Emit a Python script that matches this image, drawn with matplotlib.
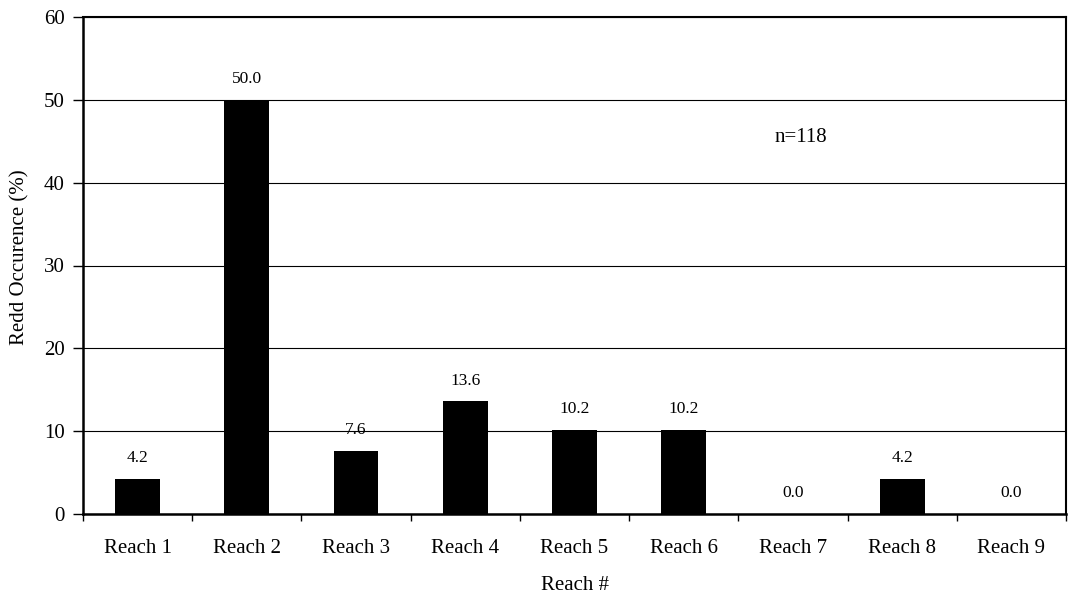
import matplotlib
matplotlib.use('Agg')
import matplotlib.pyplot as plt
import numpy as np

# data
reaches = ['Reach 1', 'Reach 2', 'Reach 3', 'Reach 4', 'Reach 5',
           'Reach 6', 'Reach 7', 'Reach 8', 'Reach 9']
occurrence = [4.2, 50.0, 7.6, 13.6, 10.2, 10.2, 0.0, 4.2, 0.0]
sample_note = 'n=118'

plt.rcParams['font.family'] = ['Liberation Serif', 'DejaVu Serif']

fig = plt.figure(figsize=(10.7, 5.98), dpi=100)
ax = fig.add_axes([83 / 1070, 1 - 514 / 598, (1066 - 83) / 1070, (514 - 17) / 598])

x = np.arange(len(reaches))
ax.bar(x, occurrence, width=0.41, color='black', zorder=3)

for xi, v in zip(x, occurrence):
    ax.annotate('%.1f' % v, (xi, v), xytext=(0, 15), textcoords='offset points',
                ha='center', va='center', fontsize=12.5)

ax.text(6.07, 45.5, sample_note, ha='center', va='center', fontsize=15)

ax.set_xlim(-0.5, len(reaches) - 0.5)
ax.set_ylim(0, 60)
ax.set_yticks(range(0, 61, 10))
ax.yaxis.grid(True, color='black', linewidth=0.8, zorder=0)

ax.set_xticks(x)
ax.set_xticklabels(reaches)
ax.set_xticks(np.arange(-0.5, len(reaches)), minor=True)
ax.tick_params(axis='x', which='major', length=0, pad=18, labelsize=15)
ax.tick_params(axis='x', which='minor', length=5, width=1)
ax.tick_params(axis='y', length=7, width=1, pad=6, labelsize=15)

for side in ['left', 'bottom']:
    ax.spines[side].set_linewidth(1.8)
for side in ['top', 'right']:
    ax.spines[side].set_linewidth(1.5)

ax.set_xlabel('Reach #', fontsize=15)
ax.set_ylabel('Redd Occurence (%)', fontsize=15)
ax.xaxis.set_label_coords((575 - 83) / 983, -(585 - 514) / 497)
ax.yaxis.set_label_coords(-(83 - 20) / 983, (514 - 257) / 497)
ax.xaxis.label.set_va('center')
ax.yaxis.label.set_va('center')

plt.savefig('out.png', dpi=100)
